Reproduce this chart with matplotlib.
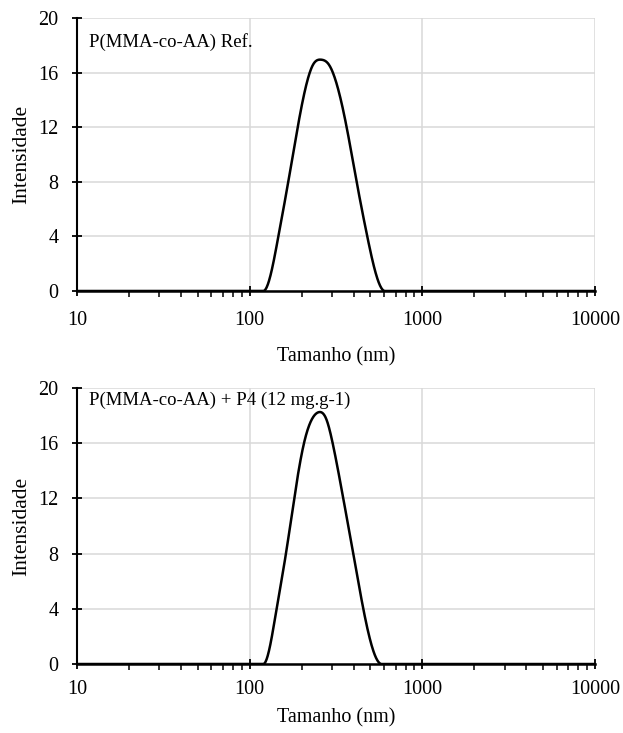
import numpy as np
import matplotlib.pyplot as plt
from matplotlib.ticker import LogLocator, NullFormatter, FixedLocator

plt.rcParams['font.family'] = ['Liberation Serif', 'DejaVu Serif']

# pontos (tamanho em nm, intensidade)
size_ref = [10, 120.0, 146.6, 167.3, 189.7, 233.2, 258.8, 287.1,
            364.4, 416.4, 479.7, 606.7, 10000]
int_ref = [0, 0.0, 4.0, 8.0, 12.0, 16.6, 16.95, 16.6,
           12.0, 8.0, 4.0, 0.0, 0]

size_p4 = [10, 120.0, 143.2, 162.2, 181.1, 206.3, 229.6, 251.8, 277.7, 302.4,
           348.3, 398.1, 455.0, 580.8, 10000]
int_p4 = [0, 0.0, 4.0, 8.0, 12.0, 16.0, 17.75, 18.25, 17.75, 16.0,
          12.0, 8.0, 4.0, 0.0, 0]

labels = ['P(MMA-co-AA) Ref.', 'P(MMA-co-AA) + P4 (12 mg.g-1)']
yticks = [0, 4, 8, 12, 16, 20]
xticks = [10, 100, 1000, 10000]


def smooth(x, y, n=40):
    # spline cubica (derivada zero nas pontas) em log x, linha de base reta
    u = np.log10(x[1:-1])
    v = np.asarray(y[1:-1], float)
    k = len(u)
    h = np.diff(u)
    A = np.zeros((k, k))
    b = np.zeros(k)
    A[0, 0], A[0, 1] = 2 * h[0], h[0]
    b[0] = 6 * ((v[1] - v[0]) / h[0])
    A[-1, -2], A[-1, -1] = h[-1], 2 * h[-1]
    b[-1] = 6 * (0 - (v[-1] - v[-2]) / h[-1])
    for i in range(1, k - 1):
        A[i, i - 1], A[i, i], A[i, i + 1] = h[i - 1], 2 * (h[i - 1] + h[i]), h[i]
        b[i] = 6 * ((v[i + 1] - v[i]) / h[i] - (v[i] - v[i - 1]) / h[i - 1])
    M = np.linalg.solve(A, b)
    us, ys = [np.log10([x[0]])], [[y[0]]]
    for i in range(k - 1):
        s = np.linspace(u[i], u[i + 1], n, endpoint=False)
        a = u[i + 1] - s
        c = s - u[i]
        us.append(s)
        ys.append(M[i] * a ** 3 / (6 * h[i]) + M[i + 1] * c ** 3 / (6 * h[i])
                  + (v[i] / h[i] - M[i] * h[i] / 6) * a
                  + (v[i + 1] / h[i] - M[i + 1] * h[i] / 6) * c)
    us.append([u[-1], np.log10(x[-1])])
    ys.append([v[-1], y[-1]])
    return 10 ** np.concatenate(us), np.concatenate(ys)


fig = plt.figure(figsize=(6.23, 7.33), dpi=100)
ax1 = fig.add_axes([0.1236, 0.603, 0.8315, 0.3724])
ax2 = fig.add_axes([0.1236, 0.0941, 0.8315, 0.3766])

setups = ((ax1, size_ref, int_ref, labels[0], 0.912, 11, 12),
          (ax2, size_p4, int_p4, labels[1], 0.954, 8, 7))

for ax, sz, inten, lab, ty, xpad, lpad in setups:
    xs, ys = smooth(sz, inten)
    ax.plot(xs, ys, color='black', lw=1.8, zorder=3, solid_capstyle='round')
    ax.set_xscale('log')
    ax.set_xlim(10, 10000)
    ax.set_ylim(0, 20)
    ax.xaxis.set_major_locator(FixedLocator(xticks))
    ax.set_xticklabels([str(v) for v in xticks])
    ax.xaxis.set_minor_locator(LogLocator(base=10, subs=np.arange(2, 10)))
    ax.xaxis.set_minor_formatter(NullFormatter())
    ax.set_yticks(yticks)
    ax.grid(True, which='major', color='#d9d9d9', lw=1.1, zorder=0)
    ax.set_axisbelow(True)
    for s in ('top', 'right'):
        ax.spines[s].set_visible(False)
    ax.spines['left'].set_linewidth(1.5)
    ax.spines['bottom'].set_linewidth(1.8)
    ax.tick_params(axis='both', which='major', direction='inout', length=7, width=1.3,
                   labelsize=14.5, color='black')
    ax.tick_params(axis='x', which='major', pad=xpad)
    ax.tick_params(axis='y', which='major', pad=10)
    ax.tick_params(axis='x', which='minor', direction='out', length=4, width=1.1, color='black')
    ax.set_xlabel('Tamanho (nm)', fontsize=14.5, labelpad=lpad)
    ax.set_ylabel('Intensidade', fontsize=15.5, labelpad=5)
    ax.text(0.023, ty, lab, transform=ax.transAxes, fontsize=13.5, va='center', ha='left')

fig.savefig('out.png', dpi=100)
